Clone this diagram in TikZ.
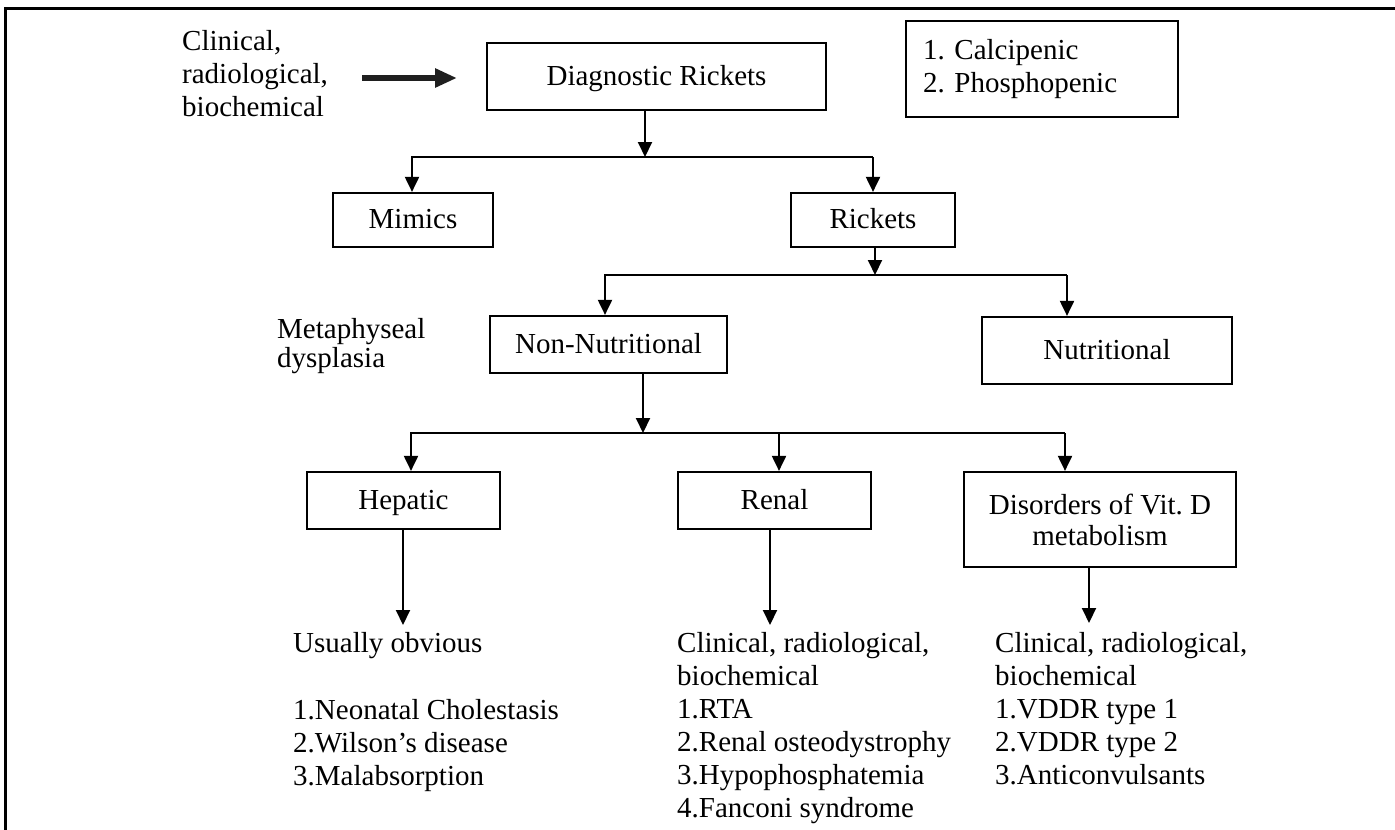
\documentclass[tikz,border=0pt]{standalone}
\usepackage{fontspec}
\setmainfont{Liberation Serif}
\usetikzlibrary{arrows.meta}
\newcommand\fsz{\fontsize{29pt}{33pt}\selectfont\frenchspacing}
\begin{document}
\begin{tikzpicture}[x=1pt,y=-1pt,
  box/.style={draw, line width=2.2pt, inner sep=0pt, align=center, font=\fsz},
  onebox/.style={box, text height=22pt, text depth=5pt},
  conn/.style={line width=2pt, -{Triangle[length=15pt,width=14pt]}},
  bigarrow/.style={line width=5.5pt, draw=black!88, -{Triangle[length=22pt,width=18pt]}},
  txt/.style={anchor=base west, inner sep=0pt, align=left, font=\fsz}]
\useasboundingbox (0,0) rectangle (1395,830);
% frame
\draw[line width=3pt] (5,830) -- (5,8) -- (1395,8);

% boxes
\node[onebox, minimum width=339pt, minimum height=67pt] (diag) at (656.5,76.5) {Diagnostic Rickets};
\node[box, minimum width=272pt, minimum height=96pt, text width=238pt, inner xsep=17pt, align=left] (types) at (1042,69) {1. Calcipenic\\2. Phosphopenic};
\node[onebox, minimum width=160pt, minimum height=54pt] (mimics) at (413,220) {Mimics};
\node[onebox, minimum width=164pt, minimum height=54pt] (rickets) at (873,220) {Rickets};
\node[onebox, minimum width=237pt, minimum height=57pt] (nonnut) at (608.5,344.5) {Non-Nutritional};
\node[onebox, minimum width=250pt, minimum height=67pt] (nut) at (1107,350.5) {Nutritional};
\node[onebox, minimum width=193pt, minimum height=57pt] (hep) at (403.5,500.5) {Hepatic};
\node[onebox, minimum width=193pt, minimum height=57pt] (renal) at (774.5,500.5) {Renal};
\node[box, minimum width=272pt, minimum height=95pt] (vitd) at (1100,519.5) {Disorders of Vit. D\\[-2pt]metabolism};

% free texts (base = baseline of last line)
\node[txt] (crb) at (182,116) {Clinical,\\radiological,\\biochemical};
\node[txt] (meta) at (277,367) {Metaphyseal\\[-4pt]dysplasia};
\node[txt] (hepl) at (293,785) {Usually obvious\\[34pt]1.Neonatal Cholestasis\\2.Wilson’s disease\\3.Malabsorption};
\node[txt] (renl) at (677,817) {Clinical, radiological,\\biochemical\\1.RTA\\2.Renal osteodystrophy\\3.Hypophosphatemia\\4.Fanconi syndrome};
\node[txt] (vitdl) at (995,784) {Clinical, radiological,\\biochemical\\1.VDDR type 1\\2.VDDR type 2\\3.Anticonvulsants};

% thick arrow
\coordinate (t1) at (362,78);
\coordinate (t2) at (457,78);
\draw[bigarrow] (t1) -- (t2);

% level 1
\coordinate (a1) at (645,157);
\coordinate (a1L) at (412,157);
\coordinate (a1R) at (873,157);
\draw[conn] (diag.south -| a1) -- (a1);
\draw[conn] (a1R) -- (a1L) -- (a1L |- mimics.north);
\draw[conn] (a1R) -- (a1R |- rickets.north);

% level 2
\coordinate (a2) at (875,275);
\coordinate (a2L) at (605,275);
\coordinate (a2R) at (1067,275);
\draw[conn] (rickets.south -| a2) -- (a2);
\draw[conn] (a2R) -- (a2L) -- (a2L |- nonnut.north);
\draw[conn] (a2R) -- (a2R |- nut.north);

% level 3
\coordinate (a3) at (643,433);
\coordinate (a3L) at (411,433);
\coordinate (a3M) at (779,433);
\coordinate (a3R) at (1065,433);
\draw[conn] (nonnut.south -| a3) -- (a3);
\draw[conn] (a3R) -- (a3L) -- (a3L |- hep.north);
\draw[conn] (a3M) -- (a3M |- renal.north);
\draw[conn] (a3R) -- (a3R |- vitd.north);

% level 4
\coordinate (e1) at (403,625);
\coordinate (e2) at (770,625);
\coordinate (e3) at (1089,623);
\draw[conn] (hep.south -| e1) -- (e1);
\draw[conn] (renal.south -| e2) -- (e2);
\draw[conn] (vitd.south -| e3) -- (e3);
\end{tikzpicture}
\end{document}
